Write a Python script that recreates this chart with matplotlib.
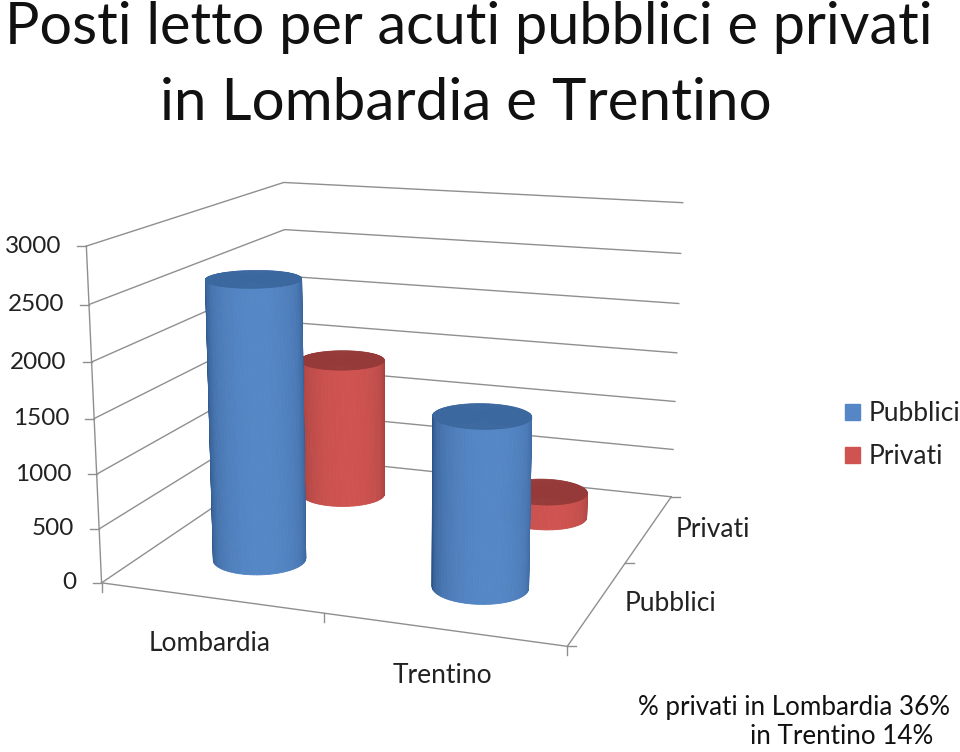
import numpy as np
import matplotlib
matplotlib.use("Agg")
from matplotlib import pyplot as plt
from matplotlib.lines import Line2D
from matplotlib.patches import Patch
from mpl_toolkits.mplot3d import proj3d

plt.rcParams['font.family'] = ['Lato', 'DejaVu Sans']

regions = ["Lombardia", "Trentino"]
series = ["Pubblici", "Privati"]
pubblici = [2600, 1550]
privati = [1400, 250]
z_ticks = [0, 500, 1000, 1500, 2000, 2500, 3000]

blue = {"mid": "#5587C6", "edge": "#2C5285", "top": "#3B689F"}
red = {"mid": "#CF5350", "edge": "#8A3735", "top": "#953A38"}
grid = "#8F8F8F"
radius = 0.2
azim = -70.22

W, H = 960, 752
fig = plt.figure(figsize=(W / 100, H / 100), dpi=100)
# axes box comes from the camera fit, so it hangs where the walls are in the picture
ax = fig.add_axes([50.26 / W, (H - 739.6) / H, 693.8 / W, 693.8 / H], projection='3d')
ax.computed_zorder = False
ax.set_xlim(0, 2)
ax.set_ylim(0, 2)
ax.set_zlim(0, 3000)
ax.view_init(elev=14.32, azim=azim)
ax.set_proj_type('persp', focal_length=0.4727)
ax.set_box_aspect((1.4078, 1.3737, 1.0))
ax.set_axis_off()


def to_pixels(x, y, z):
    px, py, _ = proj3d.proj_transform(x, y, z, ax.get_proj())
    return ax.transData.transform((px, py))


def tick(x, y, z, dx, dy):
    px, py = to_pixels(x, y, z)
    fig.add_artist(Line2D([px, px + dx], [py, py + dy], transform=None, color=grid, lw=1))


def tick_label(x, y, z, dx, dy, text, size=19, **kw):
    px, py = to_pixels(x, y, z)
    fig.text((px + dx) / W, (py + dy) / H, text, fontsize=size, color="#222222", **kw)


def cylinder(cx, cy, value, colors, order):
    # only the part that faces the camera, the back is hidden anyway
    theta = np.radians(np.linspace(azim - 105, azim + 105, 61))
    T, Z = np.meshgrid(theta, np.array([0.0, value]))
    X = cx + radius * np.cos(T)
    Y = cy + radius * np.sin(T)
    # brightest where the surface faces the camera, darker towards the sides
    mid_angle = (theta[:-1] + theta[1:]) / 2
    facing = np.clip(np.cos(mid_angle - np.radians(azim + 8)), 0, 1) ** 0.6
    mid = np.array(matplotlib.colors.to_rgb(colors["mid"]))
    edge = np.array(matplotlib.colors.to_rgb(colors["edge"]))
    face = np.ones((1, len(mid_angle), 4))
    face[0, :, :3] = edge + (mid - edge) * facing[:, None]
    side = ax.plot_surface(X, Y, Z, facecolors=face, rstride=1, cstride=1, shade=False,
                           linewidth=0.6, antialiased=True, zorder=order)
    side.set_snap(False)
    disc = np.linspace(0, 2 * np.pi, 121)
    T2, R2 = np.meshgrid(disc, np.array([0.0, radius]))
    cap = ax.plot_surface(cx + R2 * np.cos(T2), cy + R2 * np.sin(T2), np.full_like(T2, value),
                          color=colors["top"], rstride=1, cstride=1, shade=False,
                          linewidth=0.5, edgecolor=colors["top"], antialiased=True,
                          zorder=order + 0.5)
    cap.set_snap(False)


# walls and floor
for z in z_ticks:
    ax.plot([0, 0, 2], [0, 2, 2], [z, z, z], color=grid, lw=1, zorder=1)
ax.plot([0, 0], [0, 0], [0, 3000], color=grid, lw=1, zorder=1)
ax.plot([0, 2, 2], [0, 0, 2], [0, 0, 0], color=grid, lw=1, zorder=1)

# back row first, the front row covers it
for i in range(len(regions)):
    cylinder(i + 0.5, 1.5, privati[i], red, 2 + i)
for i in range(len(regions)):
    cylinder(i + 0.5, 0.5, pubblici[i], blue, 5 + i)

for z in z_ticks:
    tick(0, 0, z, -9, 0)
    tick_label(0, 0, z, -25, 0, str(z), size=17.5, ha='right', va='center')
for i in range(3):
    tick(i, 0, 0, 0, -9)
    tick(2, i, 0, 9, 0)
for i, name in enumerate(regions):
    tick_label(i + 0.5, 0, 0, 0, -46, name, ha='center', va='center')
for i, name in enumerate(series):
    tick_label(2, i + 0.5, 0, 26, -2, name, ha='left', va='center')

fig.text(469 / W, 1 - 27 / H, "Posti letto per acuti pubblici e privati", fontsize=41.5,
         ha='center', va='center', color="#111111")
fig.text(466 / W, 1 - 103 / H, "in Lombardia e Trentino", fontsize=42,
         ha='center', va='center', color="#111111")

fig.text(950 / W, 1 - 708 / H, "% privati in Lombardia 36%", fontsize=18.7, ha='right',
         va='center', color="#111111")
fig.text(933 / W, 1 - 737 / H, "in Trentino 14%", fontsize=18.7, ha='right', va='center',
         color="#111111")

fig.legend(handles=[Patch(color=blue["mid"], label=series[0]), Patch(color=red["mid"], label=series[1])],
           loc='upper left', bbox_to_anchor=(845 / W, 1 - 401 / H), frameon=False, fontsize=19,
           handlelength=0.57, handleheight=0.57, handletextpad=0.34, labelspacing=0.68,
           borderpad=0, borderaxespad=0, labelcolor="#222222")

fig.savefig("out.png", dpi=100)
